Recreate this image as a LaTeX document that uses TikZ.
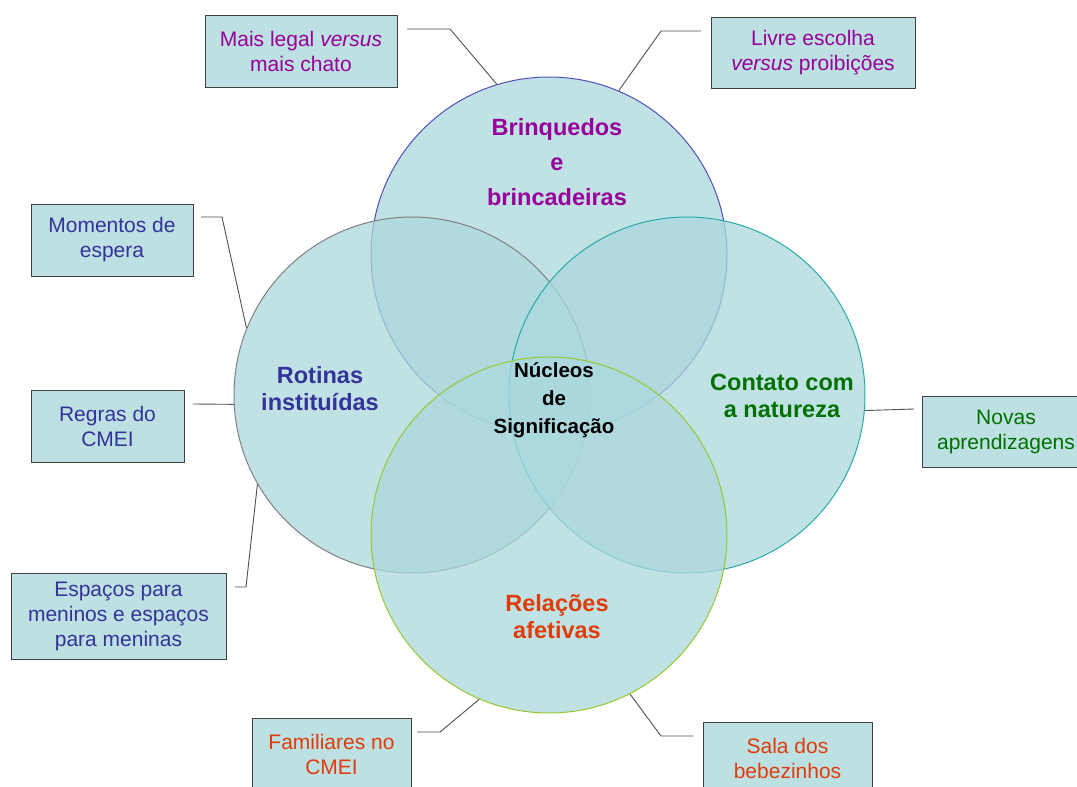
\documentclass[tikz,border=0pt]{standalone}
\usepackage{fontspec}
\setmainfont{Liberation Sans}
\usetikzlibrary{positioning}
\definecolor{boxfill}{HTML}{BDE0E3}
\definecolor{circfill}{RGB}{171,216,220}
\definecolor{boxline}{HTML}{404040}
\definecolor{linkcol}{HTML}{505050}
\definecolor{roxo}{HTML}{990099}
\definecolor{azul}{HTML}{333399}
\definecolor{verde}{HTML}{007000}
\definecolor{vermelho}{HTML}{E03C0A}
\tikzstyle{nucleo} = [circle, minimum size=356, inner sep=0pt, fill=circfill, fill opacity=0.75, line width=1pt]
\tikzstyle{tema} = [draw=boxline, fill=boxfill, line width=0.8pt, align=center, inner sep=0pt, font=\fontsize{21}{25}\selectfont]
\tikzstyle{rotulo} = [align=center, font=\bfseries\fontsize{23.5}{27}\selectfont]
\tikzstyle{link} = [draw=linkcol, line width=0.9pt]

\begin{document}
\begin{tikzpicture}[x=1pt, y=-1pt]
        \useasboundingbox (0,0) rectangle (1077,787);
        % circulos
        \node[nucleo, draw={rgb,255:red,80;green,80;blue,190}] (brinq) at (549,255) {};
        \node[nucleo, draw={rgb,255:red,128;green,128;blue,128}] (rotina) at (412,395) {};
        \node[nucleo, draw={rgb,255:red,40;green,170;blue,170}] (natur) at (687,395) {};
        \node[nucleo, draw={rgb,255:red,150;green,200;blue,50}] (afeto) at (549,535) {};

        \node[rotulo, text=roxo, font=\bfseries\fontsize{23.5}{35}\selectfont] (brinqtxt) at (557,162) {Brinquedos\\e\\brincadeiras};
        \node[rotulo, text=azul] (rotinatxt) at (320,389) {Rotinas\\instituídas};
        \node[rotulo, text=verde] (naturtxt) at (782,396) {Contato com\\a natureza};
        \node[rotulo, text=vermelho] (afetotxt) at (557,617) {Relações\\afetivas};
        \node[rotulo, font=\bfseries\fontsize{20.5}{28}\selectfont] (centro) at (554,400) {Núcleos\\de\\Significação};

        % caixas
        \node[tema, minimum width=192, minimum height=72, text=roxo] (legal) at (301,51) {Mais legal \textit{versus}\\mais chato};
        \node[tema, minimum width=204, minimum height=71, text=roxo] (livre) at (813,52.5) {Livre escolha\\\textit{versus} proibições};
        \node[tema, minimum width=162, minimum height=72, text=azul] (espera) at (112,240) {Momentos de\\espera};
        \node[tema, minimum width=153, minimum height=72, text=azul] (regras) at (107.5,426) {Regras do\\CMEI};
        \node[tema, minimum width=215, minimum height=86, text=azul] (espacos) at (118.5,616) {Espaços para\\meninos e espaços\\para meninas};
        \node[tema, minimum width=168, minimum height=71, text=verde] (novas) at (1006,431.5) {Novas\\aprendizagens};
        \node[tema, minimum width=159, minimum height=72, text=vermelho] (familia) at (331.5,754) {Familiares no\\CMEI};
        \node[tema, minimum width=169, minimum height=72, text=vermelho] (sala) at (787.5,758) {Sala dos\\bebezinhos};

        % ligacoes
        \coordinate (c1) at (407,29);
        \coordinate (c2) at (701,31);
        \coordinate (c3) at (201,217);
        \coordinate (c4) at (193,404);
        \coordinate (c5) at (235,587);
        \coordinate (c6) at (914,409);
        \coordinate (c7) at (417,732);
        \coordinate (c8) at (693,736);
        \draw[link] (c1) -- ++(43,0) -- (brinq.107);
        \draw[link] (c2) -- ++(-40,0) -- (brinq.67);
        \draw[link] (c3) -- ++(21,0) -- (rotina.158);
        \draw[link] (c4) -- (rotina.183);
        \draw[link] (c5) -- ++(11,0) -- (rotina.210);
        \draw[link] (c6) -- (natur.-5);
        \draw[link] (c7) -- ++(23,0) -- (afeto.247);
        \draw[link] (c8) -- ++(-32,0) -- (afeto.297);

    \end{tikzpicture}
\end{document}
